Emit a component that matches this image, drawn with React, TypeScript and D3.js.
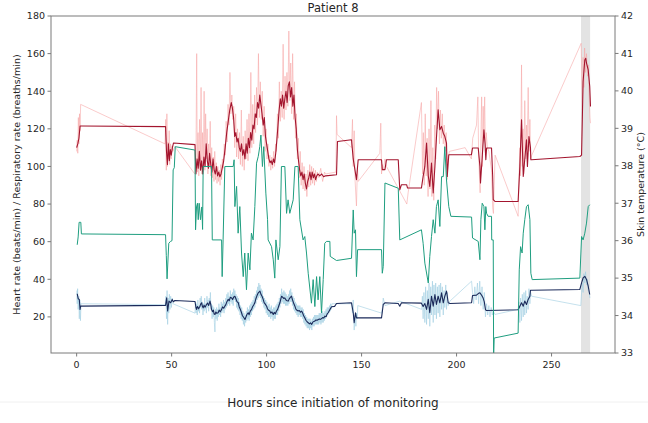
import React from "react";
import * as d3 from "d3";

type P = [number, number];

const hrSmooth: P[] = [
  [0,110],[0.6,112],[1.2,115],[1.8,121.5],[2.5,121.5],[46.8,121.2],
  [47.3,108],[47.8,101],[48.3,112],[48.8,103],[49.3,109],[49.8,106],[50.4,110],[51,112.5],[62.3,111.6],
  [62.8,96],[63.4,104],[64,99],[64.6,108],[65.2,98],[65.8,103],[66.4,96],[67,105],[67.6,100],[68.2,112],[68.8,103],[69.4,99],[70,107],[70.6,101],[71.2,97],[71.8,104],[72.4,98],[73,96],[73.6,100],[74.2,95],[74.8,97],[75.4,94.5],[76,96],[76.6,99],
  [77.4,103],[78.2,110],[79,118],[79.8,124],[80.6,130],[81.4,134],[82,131],[82.6,126],[83.2,116],[83.8,118],[84.4,113],[85,115],[85.6,110],[86.2,108],[86.8,112],[87.4,106],[88,109],[88.6,104],[89.2,112],[89.8,107],[90.4,115],[91,110],[91.6,118],[92.2,114],[92.8,122],[93.4,120],[94,128],[94.6,126],[95.2,134],[95.8,131],[96.4,138],[97,133],[97.6,128],[98.2,122],[98.8,126],[99.4,116],[100,112],[100.6,108],[101.2,104],[101.8,102],[102.4,103],[103,101],[103.6,104],[104.2,102],[104.8,107],[105.4,114],[106,122],[106.6,130],[107.2,136],[107.8,132],[108.4,138],[109,131],[109.6,136],[110.2,140],[110.8,134],[111.4,143],[112,145],[112.6,137],[113.2,142],[113.8,132],[114.4,138],[115,126],[115.6,120],[116.2,109],[116.8,103],[117.4,98],[118,95],[118.6,97],[119.2,93],[119.8,96],[120.4,91],[121,88],[121.6,92],[122.2,94],[122.8,97],[123.4,93],[124,97],[124.6,94],[125.2,96],[125.8,93],[126.4,95],[127,96],[128,95],[129,96],[130,94.5],[131,95],[136.8,95.6],
  [137.3,113.3],[144.7,114.2],[145.6,104],[147.3,93],[148.2,103.6],[160.5,103.6],[160.9,98.3],[162.3,98.3],[163.1,103.6],[169.3,103.6],[170.1,87.6],[171,90.3],[173.7,90.3],[174.2,88.5],[181.5,88.5],[182.4,94.7],[183.3,100],[184.2,112.4],[185.1,95],[185.9,89.4],[186.8,101.8],[187.7,85.9],[188.6,100],[189.4,115],[190.3,130.1],[191.2,119.5],[192.1,121.3],[193,117.7],[193.8,116],[194.7,112.4],[195.1,94.7],[195.9,106.2],[207.8,106.2],
  [208.4,109.8],[211.4,109.8],[212.3,100],[212.6,91.2],[213.5,105],[214.4,119.5],[215,112],[215.4,103.6],[215.8,109.8],[218.4,109.8],[219,95],[219.3,82.3],[220.2,81.4],[232.4,81.4],[233.3,100],[234.2,124.8],[235.1,94.7],[236,105],[236.8,114.2],[237.3,100],[238.1,115.9],[238.9,110],[239.1,103.6],[239.5,103.6],[264.9,105.3],[265.8,106],[266.6,145],[267.5,156.6],[268,157.5],[268.4,155],[269.3,151.3],[270.1,142.5],[270.5,131.9],
];

const hrRaw: P[] = [
  [0,108],[0.3,114],[0.6,107],[0.9,126],[1.2,112],[1.5,128],[1.8,119],[2.1,133],[46.5,112],[46.9,125],[47.2,98],[47.5,128],[47.8,100],[48.1,113],[48.4,104],[48.7,119],[49,101],[49.4,112],[49.8,104],[50.2,111],[50.6,108],[51.7,110.6],[62.2,96],
  [62.8,104],[63.2,160],[63.5,97],[63.9,118],[64.3,95],[64.7,125],[65.1,100],[65.5,142],[65.9,96],[66.3,118],[66.7,102],[67.1,140],[67.5,98],[67.9,128],[68.3,104],[68.7,120],[69.1,96],[69.5,112],[69.9,100],[70.3,124],[70.7,95],[71.1,110],[71.5,94],[71.9,105],[72.3,92],[72.7,108],[73.1,93],[73.5,102],[73.9,91],[74.3,100],[74.7,92],[75.1,98],[75.5,90],[75.9,101],[76.3,93],[76.7,104],[77.2,99],[77.7,112],[78.2,106],[78.7,124],[79.2,113],[79.7,133],[80.2,122],[80.7,150],[81.2,128],[81.7,138],[82.2,125],[82.7,132],[83.2,110],[83.7,128],[84.2,105],[84.7,120],[85.2,104],[85.7,118],[86.2,101],[86.7,130],[87.2,100],[87.7,116],[88.2,98],[88.7,119],[89.2,104],[89.7,125],[90.2,103],[90.7,128],[91.2,107],[91.7,150],[92.2,110],[92.7,133],[93.2,112],[93.7,138],[94.2,118],[94.7,142],[95.2,122],[95.7,160],[96.2,126],[96.7,145],[97.2,125],[97.7,140],[98.2,116],[98.7,132],[99.2,108],[99.7,120],[100.2,104],[100.7,112],[101.2,100],[101.7,106],[102.2,98],[102.7,105],[103.2,99],[103.7,108],[104.2,100],[104.7,112],[105.2,108],[105.7,128],[106.2,115],[106.7,145],[107.2,124],[107.7,140],[108.2,126],[108.7,165],[109.2,125],[109.7,148],[110.2,130],[110.7,150],[111.2,132],[111.7,172],[112.2,135],[112.7,155],[113.2,128],[113.7,160],[114.2,125],[114.7,145],[115.2,115],[115.7,128],[116.2,104],[116.7,115],[117.2,94],[117.7,108],[118.2,90],[118.7,102],[119.2,88],[119.7,100],[120.2,87],[120.7,96],[121.2,84],[121.7,98],[122.2,89],[122.7,101],[123.2,90],[123.7,100],[124.2,91],[124.7,99],[125.2,90],[125.7,98],[126.2,92],[126.7,97],[127.5,94],[128.5,99],[129.5,92],[130.5,97],
  [131,96],[136.5,97],[136.8,127],[137.1,117],[144.7,110],[145.2,125],[145.6,100],[146.1,119],[146.6,92],[147.3,79],[147.8,100],[148.2,92],[159.6,107],[160.1,123],[160.5,96],[160.9,101],[161.5,98],[162.3,104],[163.1,100],[173.8,80],[174.5,86],[181.5,134],[182.1,96],[182.5,118],[183,90],[183.5,128],[184,95],[184.5,115],[185,84],[185.5,120],[186,88],[186.5,135],[187,84],[187.5,110],[188,82],[188.5,122],[189,104],[189.5,142],[190,120],[190.5,140],[191,112],[191.5,130],[192,115],[192.5,128],[193,112],[193.5,122],[194,108],[194.5,118],[195,93],[195.5,104],[196.2,108],
  [204.5,110],[207.8,104],[208.5,115],[210.5,122],[211.2,137],[211.6,108],[212,96],[212.4,86],[212.8,115],[213.2,137],[213.6,100],[214,132],[214.4,117],[214.8,137],[215.2,106],[215.6,118],[216.2,110],[217,108],[218.4,98],[219,78],[219.4,75],[219.8,90],[220.3,106],[232.4,73.5],[232.8,90],[233.3,110],[233.7,95],[234.2,154],[234.6,100],[235,120],[235.4,96],[235.9,135],[236.4,104],[236.8,122],[237.2,110],[237.7,142],[238.2,108],[238.6,125],[239,104],[239.6,106],[265.6,165.5],[266.2,130],[266.6,158],[267,142],[267.4,163],[267.9,150],[268.4,160],[268.9,148],[269.4,154],[269.8,138],[270.2,126],[270.5,123],
];

const rrSmooth: P[] = [
  [0.3,32.3],[0.85,29.6],[1.4,29.3],[1.8,24],[2.1,25.7],[46.8,26.1],[47.4,30.1],[47.9,23.1],[48.6,28.4],[49.5,27.5],[50.3,29.3],[50.9,28],[51.7,28.7],[62.3,28.2],
  [62.8,25],[63.1,24],[63.6,25.5],[64.2,24.3],[64.9,25.7],[65.4,27],[65.8,27.5],[66.2,25.6],[66.6,24.8],[67.1,26.2],[67.6,25.1],[68.4,26.6],[68.9,27.4],[69.5,26.1],[70.2,28.4],[70.6,26.5],[71,24],[71.5,22.8],[72,23.6],[72.4,21.5],[72.8,21.3],[73.3,22.6],[73.8,21.9],[74.5,22.2],[75,23.6],[75.6,22.7],[76.3,24],[76.8,25.3],[77.4,24.6],[78,25.7],[78.5,26.4],[79.1,28.1],[79.8,29.3],[80.3,28.6],[80.9,30.4],[81.6,30.1],[82.1,29.2],[82.7,30.6],[83.3,31],[83.8,29.8],[84.4,28.1],[85.1,27.5],[85.6,25.3],[86.2,23.9],[86.8,22.2],[87.3,20.6],[87.9,19.8],[88.6,18.6],[89.1,19.9],[89.7,21.4],[90.3,22.2],[90.8,21.2],[91.4,23.1],[92.1,24],[92.6,25.4],[93.2,26.3],[93.8,27.5],[94.3,29.5],[94.9,31.2],[95.6,32.8],[96,33.2],[96.5,33.7],[97,32.1],[97.6,31],[98.2,29.3],[98.7,27.6],[99.3,26.8],[100,25.7],[100.5,24.2],[101.1,23.5],[101.7,23.1],[102.2,22],[102.8,22.6],[103.5,21.3],[104,22.4],[104.6,21.6],[105.2,23.1],[105.8,24],[106.4,25.8],[107,27.5],[107.5,29.6],[107.9,31],[108.5,30.4],[109,29.8],[109.6,30.1],[110.2,29],[110.8,28.6],[111.4,28.4],[111.9,29.6],[112.5,30.4],[113.1,31],[113.6,29.2],[114.2,27.4],[114.9,25.7],[115.4,24.1],[116,23.5],[116.6,23.1],[117.2,23.4],[117.8,22.5],[118.4,23.1],[119,22],[119.5,20.6],[120.1,19.5],[120.7,18.2],[121.3,17.4],[121.9,16.9],[122.5,16.3],[123.1,16.8],[123.7,16],[124.3,17.2],[124.9,17.6],[125.4,17.8],[126,18.4],[126.6,18.2],[127.2,18.6],[127.8,18.9],[128.4,18.7],[128.9,19.1],[129.5,19.6],[130.1,19.4],[130.7,20.4],[131.3,20.1],[131.9,21.6],[132.4,22.2],[133,23.3],[133.6,24.4],[134.2,25.4],[135.8,25.6],[136.8,27.1],
  [144.7,27.5],[145.6,22.2],[146.1,16.9],[146.8,22.2],[147.3,19.5],[160.5,19.5],[161.4,26.6],[162.3,27.5],[169.3,27.1],[170.1,25.7],[171,27.5],[181.5,27.3],[182.4,25.5],[183.3,27.1],[184.2,24],[185.1,29.3],[185.9,22.2],[186.8,31],[187.7,25.7],[188.6,31.9],[189.4,26.6],[190.3,31],[191.2,27.5],[192.1,32.8],[193,27.5],[193.8,31],[194.7,33.7],[195.6,27.5],[196.5,27.1],[207.9,27.5],
  [208.4,31.4],[210.5,31.6],[211.4,32.4],[212.3,32.8],[213.2,31.5],[214,30],[214.6,28],[215.2,24],[215.6,23.4],[232.4,23.8],[233.3,25.7],[234.2,27.5],[235.1,25.7],[235.9,28.4],[236.8,26.6],[237.7,29.3],[238.6,31],[238.9,34.2],[239.5,34.2],[264.9,34.6],[265.8,38.1],[266.6,40.7],[267.5,41.6],[268.4,39.9],[269.3,36.3],[270.1,31.9],
];

const rrRaw: P[] = [
  [0.1,34],[0.3,27],[0.5,35],[0.8,24],[1.1,31],[1.4,19],[1.7,29],[2,18],[2.3,27],[46.6,26.5],[47,31],[47.3,19],[47.6,34],[47.9,16],[48.2,30],[48.5,22],[48.8,32],[49.1,24],[49.5,31],[49.9,25],[50.3,30],[50.7,27],[62.3,22],
  [62.6,28],[62.9,22],[63.2,27],[63.5,21],[63.8,29],[64.1,23],[64.4,26],[64.7,22],[65,30],[65.3,25],[65.6,31],[65.9,24],[66.2,28],[66.5,21],[66.8,27],[67.1,23],[67.4,30],[67.7,24],[68,27],[68.3,22],[68.6,31],[68.9,25],[69.2,29],[69.5,23],[69.8,30],[70.1,26],[70.4,33],[70.7,24],[71,27],[71.3,19],[71.6,26],[71.9,20],[72.2,25],[72.5,17],[72.8,12],[73.1,24],[73.4,19],[73.7,25],[74,18],[74.3,24],[74.6,20],[74.9,27],[75.2,21],[75.5,25],[75.8,20],[76.1,28],[76.4,22],[76.7,27],[77,23],[77.3,29],[77.6,22],[77.9,28],[78.2,24],[78.5,30],[78.8,25],[79.1,32],[79.4,26],[79.7,33],[80,27],[80.3,31],[80.6,26],[80.9,34],[81.2,28],[81.5,32],[81.8,27],[82.1,33],[82.4,26],[82.7,35],[83,29],[83.3,34],[83.6,28],[83.9,32],[84.2,25],[84.5,31],[84.8,24],[85.1,30],[85.4,23],[85.7,28],[86,21],[86.3,26],[86.6,19],[86.9,25],[87.2,18],[87.5,23],[87.8,16],[88.1,22],[88.4,15],[88.7,21],[89,17],[89.3,23],[89.6,18],[89.9,25],[90.2,19],[90.5,24],[90.8,18],[91.1,26],[91.4,20],[91.7,27],[92,21],[92.3,28],[92.6,23],[92.9,29],[93.2,24],[93.5,31],[93.8,25],[94.1,32],[94.4,27],[94.7,34],[95,29],[95.3,36],[95.6,30],[95.9,38],[96.2,31],[96.5,37],[96.8,30],[97.1,35],[97.4,28],[97.7,34],[98,27],[98.3,31],[98.6,25],[98.9,30],[99.2,24],[99.5,29],[99.8,22],[100.1,28],[100.4,21],[100.7,26],[101,20],[101.3,27],[101.6,20],[101.9,25],[102.2,19],[102.5,26],[102.8,20],[103.1,24],[103.4,18],[103.7,25],[104,19],[104.3,25],[104.6,19],[104.9,26],[105.2,21],[105.5,27],[105.8,21],[106.1,28],[106.4,23],[106.7,30],[107,25],[107.3,32],[107.6,27],[107.9,35],[108.2,28],[108.5,33],[108.8,27],[109.1,34],[109.4,27],[109.7,33],[110,26],[110.3,32],[110.6,26],[110.9,31],[111.2,26],[111.5,32],[111.8,27],[112.1,34],[112.4,28],[112.7,35],[113,28],[113.3,33],[113.6,26],[113.9,31],[114.2,24],[114.5,30],[114.8,23],[115.1,28],[115.4,22],[115.7,27],[116,21],[116.3,26],[116.6,20],[116.9,26],[117.2,21],[117.5,26],[117.8,20],[118.1,25],[118.4,20],[118.7,25],[119,19],[119.3,24],[119.6,17],[119.9,22],[120.2,16],[120.5,21],[120.8,15],[121.1,20],[121.4,14],[121.7,19],[122,14],[122.3,19],[122.6,13],[122.9,19],[123.2,14],[123.5,18],[123.8,13],[124.1,19],[124.4,15],[124.7,20],[125,15],[125.3,21],[125.6,16],[125.9,21],[126.2,16],[126.5,21],[126.8,16],[127.1,21],[127.4,16],[127.7,22],[128,17],[128.3,22],[128.6,16],[128.9,22],[129.2,17],[129.5,23],[129.8,17],[130.1,22],[130.4,18],[130.7,23],[131,19],[131.3,24],[131.6,20],[131.9,25],[132.2,21],[132.5,25],[132.8,22],[133.1,26],[133.4,23],[133.7,27],[134,24],[134.4,27],
  [136.8,27],[144.7,27],[145.2,22],[145.6,29],[146.1,13],[146.6,21],[147,15],[147.3,22],[147.7,19],[148,26],[160.5,22],[161,25],[161.4,30],[162.3,26],[170.1,28.4],[181.6,24],[182,31],[182.4,19],[182.8,33],[183.3,17],[183.7,36],[184.2,16],[184.6,34],[185.1,19],[185.5,38],[185.9,15],[186.4,36],[186.8,21],[187.3,39],[187.7,17],[188.1,37],[188.6,21],[189,38],[189.4,19],[189.9,36],[190.3,22],[190.8,37],[191.2,20],[191.6,38],[192.1,24],[192.5,36],[193,21],[193.4,34],[193.8,25],[194.3,37],[194.7,24],[195.2,33],[195.6,26],[196.5,28.4],
  [207.9,39],[208.4,33],[209,27],[209.6,36],[210.3,29],[211,38],[211.6,27],[212.2,39],[212.8,26],[213.4,36],[214,24],[214.6,33],[215.2,20],[215.8,27],[216.4,21],[217,26],[217.6,20],[218.2,25],[218.8,21],[219.3,23],[220.2,21.3],[232.4,24],[232.8,28],[233.3,17],[233.7,30],[234.2,18],[234.6,32],[235.1,20],[235.5,33],[235.9,21],[236.4,34],[236.8,22],[237.2,31],[237.7,24],[238.1,35],[238.6,27],[239,33],[239.5,31],[265.4,26],[265.8,33],[266.2,38],[266.6,33],[267,43],[267.5,38],[267.9,44],[268.4,37],[268.8,40],[269.3,34],[269.8,33],[270.2,30],
];

const tempSeries: P[] = [
  [0.3,35.89],[0.8,36.1],[1.3,36.49],[2.2,36.49],[2.5,36.18],[46.8,36.16],[47.2,35.6],[47.6,34.98],[48.5,35.93],[49.4,35.98],[50.2,36],[50.8,37.89],[51.4,37.95],[51.9,38.51],[62.3,38.42],
  [62.6,36.29],[63.1,36.9],[63.6,37],[64,36.56],[64.5,37],[65.2,36.56],[65.9,36.9],[66.3,36.3],[66.6,37.98],[71,37.98],[71.4,36.02],[76.3,36.02],[76.6,35.04],[77.1,36.02],[78,37.98],[82.4,37.98],[82.9,38.16],[83.3,36.91],[84.2,37.45],[85,36.2],[85.9,36.91],[86.8,35.67],[87.7,35.04],[88.5,35.67],[89.4,34.69],[90.3,35.67],[91.2,35.22],[92,36.2],[92.9,36.02],[93.8,36.91],[94.7,38.07],[95.6,38.25],[96.4,38.51],[97,38.82],[97.8,37.98],[98.5,38.51],[99.6,37.27],[100.5,36.56],[100.8,36.02],[102.6,35.84],[103.5,35.49],[104.3,35],[104.9,36.02],[106.1,35.49],[107,35.84],[107.8,37.98],[109.6,37.98],[110.5,36.73],[111.3,37.09],[112.2,36.73],[114,37.09],[114.9,37.98],[116.6,37.98],[117.5,36.56],[119.2,36.02],[120.1,36.11],[121,35.67],[121.9,35.13],[123.6,34.33],[124.5,34.96],[125.4,34.24],[126.3,35.04],[127.1,34.42],[128,35.04],[128.9,34.07],[129.8,34.96],[130.6,35.93],[131.5,35.98],[133.3,35.98],
  [133.5,35.58],[136.8,35.47],[144.7,35.53],[145.6,36.82],[146.1,36.2],[146.8,36.29],[147.3,35.04],[147.9,35.76],[160.5,35.76],[160.9,35.13],[161.4,35.31],[162.3,37.54],[169.3,37.4],[170.1,36.02],[181.5,36.29],[182.4,35.93],[183.3,35.4],[185.1,34.87],[185.9,35.58],[186.8,36.11],[187.7,36.56],[188.6,36.2],[189.4,36.91],[190.3,37.09],[191.2,36.38],[192.1,37.71],[193,37.71],[193.8,38.51],[194.7,37.62],[195.9,36.91],[197,36.65],[207.9,36.63],
  [208.4,36.07],[211.4,35.98],[212.3,35.49],[212.8,36.56],[213.5,37],[214.4,36.91],[214.9,36.29],[215.4,36.91],[215.8,36.73],[216.6,36.65],[218.4,36.65],[218.5,36.02],[219.3,36.02],[219.5,32.9],[219.8,33.4],[232.4,33.53],[233,35.22],[233.7,35.84],[234.5,35.67],[235.1,36.2],[235.9,36.56],[236.8,36.91],[237.7,36.96],[238.6,36.56],[239.1,35.13],[239.8,34.96],[264.9,35],[265.8,36.11],[266.6,36.02],[267.5,36.2],[268.4,36.47],[269.3,36.91],[270.1,36.96],
];

const shadedWindow: [number, number] = [265.5, 270.3];
const xTicks = [0, 50, 100, 150, 200, 250];
const leftTicks = [20, 40, 60, 80, 100, 120, 140, 160, 180];
const rightTicks = [33, 34, 35, 36, 37, 38, 39, 40, 41, 42];

const W = 648, H = 423;
const L = 51, R = 615, T = 16, B = 353;
const FONT = "DejaVu Sans, sans-serif";
const TXT = "#262626";
const SPINE = "#7a7a7a";

export default function App() {
  const x = d3.scaleLinear().domain([-13.5, 283.4]).range([L, R]);
  const yl = d3.scaleLinear().domain([0.8, 180]).range([B, T]);
  const yr = d3.scaleLinear().domain([33, 42]).range([B, T]);
  const lineL = d3.line<P>().x(d => x(d[0])).y(d => yl(d[1]));
  const lineR = d3.line<P>().x(d => x(d[0])).y(d => yr(d[1]));

  return (
    <svg width={W} height={H} style={{ display: "block", position: "absolute", left: 0, top: 0 }} fontFamily={FONT}>
      <rect x={0} y={0} width={W} height={H} fill="#fff" />
      <defs>
        <clipPath id="plot"><rect x={L} y={T} width={R - L} height={B - T} /></clipPath>
      </defs>
      <line x1={0} x2={W} y1={402} y2={402} stroke="#f0f0f0" strokeWidth={1} />
      <g clipPath="url(#plot)">
        <rect x={x(shadedWindow[0])} y={T} width={x(shadedWindow[1]) - x(shadedWindow[0])} height={B - T} fill="#e3e3e3" />
        <path d={lineL(hrRaw) || ""} fill="none" stroke="#f7a8a8" strokeOpacity={0.75} strokeWidth={0.8} />
        <path d={lineL(hrSmooth) || ""} fill="none" stroke="#a3152e" strokeWidth={1.1} strokeLinejoin="round" />
        <path d={lineL(rrRaw) || ""} fill="none" stroke="#a3cfe3" strokeOpacity={0.8} strokeWidth={0.8} />
        <path d={lineL(rrSmooth) || ""} fill="none" stroke="#1b2a5a" strokeWidth={1.1} strokeLinejoin="round" />
        <path d={lineR(tempSeries) || ""} fill="none" stroke="#1f9e80" strokeWidth={1.0} strokeLinejoin="round" />
      </g>
      <rect x={L} y={T} width={R - L} height={B - T} fill="none" stroke={SPINE} strokeWidth={1} />
      {xTicks.map(t => (
        <g key={"x" + t}>
          <line x1={x(t)} x2={x(t)} y1={B} y2={B + 3.5} stroke={SPINE} />
          <text x={x(t)} y={B + 15} fontSize={9.5} textAnchor="middle" fill={TXT}>{t}</text>
        </g>
      ))}
      {leftTicks.map(t => (
        <g key={"l" + t}>
          <line x1={L - 3.5} x2={L} y1={yl(t)} y2={yl(t)} stroke={SPINE} />
          <text x={L - 6} y={yl(t)} dy="0.35em" fontSize={9.5} textAnchor="end" fill={TXT}>{t}</text>
        </g>
      ))}
      {rightTicks.map(t => (
        <g key={"r" + t}>
          <line x1={R} x2={R + 3.5} y1={yr(t)} y2={yr(t)} stroke={SPINE} />
          <text x={R + 6} y={yr(t)} dy="0.35em" fontSize={9.5} textAnchor="start" fill={TXT}>{t}</text>
        </g>
      ))}
      <text x={(L + R) / 2} y={12} fontSize={11.5} textAnchor="middle" fill={TXT}>Patient 8</text>
      <text x={333} y={407} fontSize={12} textAnchor="middle" fill={TXT}>Hours since initiation of monitoring</text>
      <text transform={`translate(20,${(T + B) / 2}) rotate(-90)`} fontSize={9.5} textAnchor="middle" fill={TXT}>Heart rate (beats/min) / Respiratory rate (breaths/min)</text>
      <text transform={`translate(644,${(T + B) / 2}) rotate(-90)`} fontSize={9.5} textAnchor="middle" fill={TXT}>Skin temperature (°C)</text>
    </svg>
  );
}
